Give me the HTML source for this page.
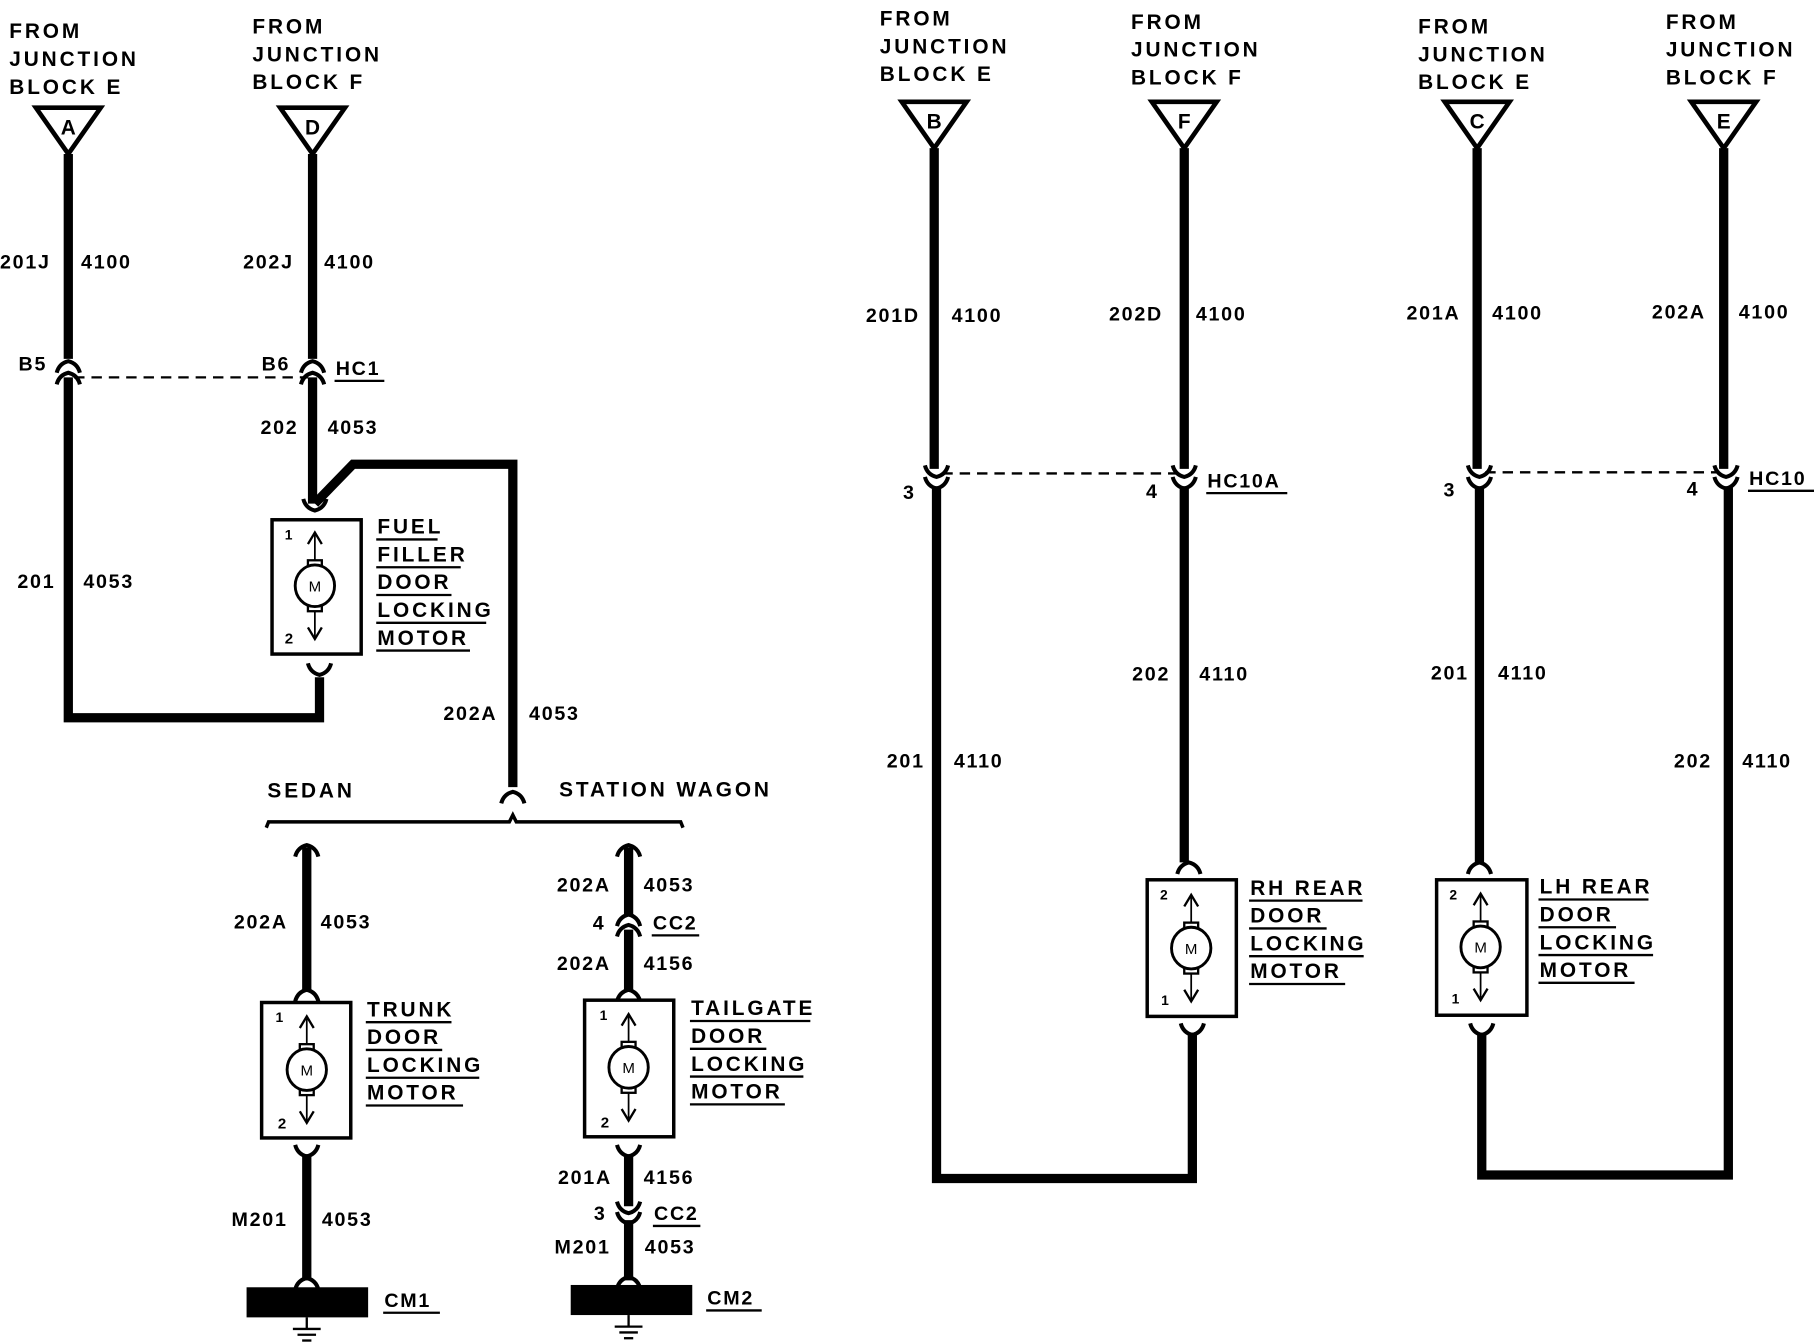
<!DOCTYPE html>
<html><head><meta charset="utf-8"><style>
html,body{margin:0;padding:0;background:#fff}
svg{display:block}
text{font-family:"Liberation Sans",sans-serif;font-weight:bold;font-size:17px;fill:#000;letter-spacing:1.5px}
.t{font-size:18px;letter-spacing:2.5px}
.w{stroke:#000;stroke-width:8;fill:none}
.c{stroke:#000;stroke-width:3.5;fill:none}
.d{stroke:#000;stroke-width:2;stroke-dasharray:9,6;fill:none}
.u{stroke:#000;stroke-width:2}
.b{stroke:#000;stroke-width:3;fill:#fff}
.tri{stroke:#000;stroke-width:4;fill:#fff}
</style></head><body>
<svg width="1814" height="1344" viewBox="0 0 1567 1161" xmlns="http://www.w3.org/2000/svg">
<defs>
<g id="cup"><path class="c" d="M-10,6 Q-8,-2 0,-4 Q8,-2 10,6"/></g>
<g id="cdn"><path class="c" d="M-10,-6 Q-8,2 0,4 Q8,2 10,-6"/></g>
<g id="mlines">
<line x1="0" y1="-44" x2="0" y2="44" stroke="#000" stroke-width="1.5"/>
<path d="M-6,-36 L0,-46 L6,-36" stroke="#000" stroke-width="2" fill="none"/>
<path d="M-6,36 L0,46 L6,36" stroke="#000" stroke-width="2" fill="none"/>
<rect x="-6" y="-22" width="12" height="6" fill="#fff" stroke="#000" stroke-width="2"/>
<rect x="-6" y="16" width="12" height="6" fill="#fff" stroke="#000" stroke-width="2"/>
<ellipse cx="0" cy="0" rx="17" ry="18" fill="#fff" stroke="#000" stroke-width="2.5"/>
</g>
<g id="motor">
<use href="#mlines"/>
<text x="0" y="5" text-anchor="middle" style="font-size:13px;font-weight:normal;letter-spacing:0">M</text>
</g>
<g id="gnd">
<line x1="0" y1="0" x2="0" y2="10" stroke="#000" stroke-width="2"/>
<line x1="-12" y1="10" x2="12" y2="10" stroke="#000" stroke-width="2"/>
<line x1="-8" y1="15" x2="8" y2="15" stroke="#000" stroke-width="2"/>
<line x1="-4" y1="20" x2="4" y2="20" stroke="#000" stroke-width="2"/>
</g>
</defs>

<!-- Left headers -->
<text class="t" x="8" y="33">FROM</text><text class="t" x="8" y="57">JUNCTION</text><text class="t" x="8" y="81">BLOCK E</text>
<text class="t" x="218" y="29">FROM</text><text class="t" x="218" y="53">JUNCTION</text><text class="t" x="218" y="77">BLOCK F</text>
<path class="tri" d="M31,93 L87,93 L59,133 Z"/><text class="t" x="59" y="116" text-anchor="middle" style="letter-spacing:0">A</text>
<path class="tri" d="M242,93 L298,93 L270,133 Z"/><text class="t" x="270" y="116" text-anchor="middle" style="letter-spacing:0">D</text>

<!-- wire A -->
<path class="w" d="M59,133 L59,310"/>
<use href="#cup" x="59" y="316"/><use href="#cup" x="59" y="326"/>
<path class="w" d="M59,326 L59,620 L276,620 L276,585"/>
<use href="#cdn" x="276" y="579"/>
<text x="0" y="232">201J</text><text x="70" y="232">4100</text>
<text x="16" y="320">B5</text>
<text x="15" y="508">201</text><text x="72" y="508">4053</text>
<line class="d" x1="64" y1="326" x2="266" y2="326"/>

<!-- wire D -->
<path class="w" d="M270,133 L270,310"/>
<use href="#cup" x="270" y="316"/><use href="#cup" x="270" y="326"/>
<path class="w" d="M270,326 L270,435"/>
<path class="w" d="M272,435 L305,401 L443,401 L443,680"/>
<use href="#cup" x="443" y="688"/>
<use href="#cdn" x="272" y="437"/>
<text x="210" y="232">202J</text><text x="280" y="232">4100</text>
<text x="226" y="320">B6</text>
<text x="290" y="324">HC1</text><line class="u" x1="289" y1="329" x2="332" y2="329"/>
<text x="225" y="375">202</text><text x="283" y="375">4053</text>
<text x="383" y="622">202A</text><text x="457" y="622">4053</text>

<!-- fuel filler motor -->
<rect class="b" x="235" y="449" width="77" height="116"/>
<use href="#motor" x="272" y="506"/>
<text x="246" y="466" style="font-size:12px">1</text><text x="246" y="556" style="font-size:13px">2</text>
<text class="t" x="326" y="461">FUEL</text><line class="u" x1="325" y1="466" x2="378" y2="466"/>
<text class="t" x="326" y="485">FILLER</text><line class="u" x1="325" y1="490" x2="398" y2="490"/>
<text class="t" x="326" y="509">DOOR</text><line class="u" x1="325" y1="514" x2="390" y2="514"/>
<text class="t" x="326" y="533">LOCKING</text><line class="u" x1="325" y1="538" x2="420" y2="538"/>
<text class="t" x="326" y="557">MOTOR</text><line class="u" x1="325" y1="562" x2="406" y2="562"/>

<!-- brace -->
<text class="t" x="231" y="689">SEDAN</text><text class="t" x="483" y="688">STATION WAGON</text>
<path d="M230,715 L232,710 L440,710 L443,704 L446,710 L588,710 L590,715" stroke="#000" stroke-width="3" fill="none"/>

<!-- trunk branch -->
<use href="#cup" x="265" y="734"/>
<path class="w" d="M265,732 L265,855"/>
<use href="#cup" x="265" y="859"/>
<text x="202" y="802">202A</text><text x="277" y="802">4053</text>
<rect class="b" x="226" y="866" width="77" height="117"/>
<use href="#motor" x="265" y="924"/>
<text x="238" y="883" style="font-size:12px">1</text><text x="240" y="975" style="font-size:13px">2</text>
<text class="t" x="317" y="878">TRUNK</text><line class="u" x1="316" y1="883" x2="390" y2="883"/>
<text class="t" x="317" y="902">DOOR</text><line class="u" x1="316" y1="907" x2="382" y2="907"/>
<text class="t" x="317" y="926">LOCKING</text><line class="u" x1="316" y1="931" x2="414" y2="931"/>
<text class="t" x="317" y="950">MOTOR</text><line class="u" x1="316" y1="955" x2="400" y2="955"/>
<use href="#cdn" x="265" y="995"/>
<path class="w" d="M265,997 L265,1106"/>
<text x="200" y="1059">M201</text><text x="278" y="1059">4053</text>
<use href="#cup" x="265" y="1108"/>
<rect x="213" y="1112" width="105" height="26" fill="#000"/>
<use href="#gnd" x="265" y="1138"/>
<text x="332" y="1129">CM1</text><line class="u" x1="331" y1="1134" x2="380" y2="1134"/>

<!-- wagon branch -->
<use href="#cup" x="543" y="734"/>
<path class="w" d="M543,732 L543,790"/>
<use href="#cup" x="543" y="794"/><use href="#cup" x="543" y="803"/>
<path class="w" d="M543,803 L543,855"/>
<use href="#cup" x="543" y="859"/>
<text x="481" y="770">202A</text><text x="556" y="770">4053</text>
<text x="512" y="803">4</text><text x="564" y="803">CC2</text><line class="u" x1="563" y1="808" x2="604" y2="808"/>
<text x="481" y="838">202A</text><text x="556" y="838">4156</text>
<rect class="b" x="505" y="864" width="77" height="118"/>
<use href="#motor" x="543" y="922"/>
<text x="518" y="881" style="font-size:12px">1</text><text x="519" y="974" style="font-size:13px">2</text>
<text class="t" x="597" y="877">TAILGATE</text><line class="u" x1="596" y1="882" x2="700" y2="882"/>
<text class="t" x="597" y="901">DOOR</text><line class="u" x1="596" y1="906" x2="662" y2="906"/>
<text class="t" x="597" y="925">LOCKING</text><line class="u" x1="596" y1="930" x2="694" y2="930"/>
<text class="t" x="597" y="949">MOTOR</text><line class="u" x1="596" y1="954" x2="678" y2="954"/>
<use href="#cdn" x="543" y="995"/>
<path class="w" d="M543,997 L543,1042"/>
<use href="#cdn" x="543" y="1044"/><use href="#cdn" x="543" y="1053"/>
<path class="w" d="M543,1054 L543,1106"/>
<text x="482" y="1023">201A</text><text x="556" y="1023">4156</text>
<text x="513" y="1054">3</text><text x="565" y="1054">CC2</text><line class="u" x1="564" y1="1059" x2="605" y2="1059"/>
<text x="479" y="1083">M201</text><text x="557" y="1083">4053</text>
<use href="#cup" x="543" y="1107"/>
<rect x="493" y="1110" width="105" height="26" fill="#000"/>
<use href="#gnd" x="543" y="1136"/>
<text x="611" y="1127">CM2</text><line class="u" x1="610" y1="1132" x2="658" y2="1132"/>

<!-- RIGHT headers -->
<text class="t" x="760" y="22">FROM</text><text class="t" x="760" y="46">JUNCTION</text><text class="t" x="760" y="70">BLOCK E</text>
<text class="t" x="977" y="25">FROM</text><text class="t" x="977" y="49">JUNCTION</text><text class="t" x="977" y="73">BLOCK F</text>
<text class="t" x="1225" y="29">FROM</text><text class="t" x="1225" y="53">JUNCTION</text><text class="t" x="1225" y="77">BLOCK E</text>
<text class="t" x="1439" y="25">FROM</text><text class="t" x="1439" y="49">JUNCTION</text><text class="t" x="1439" y="73">BLOCK F</text>
<path class="tri" d="M779,88 L835,88 L807,128 Z"/><text class="t" x="807" y="111" text-anchor="middle" style="letter-spacing:0">B</text>
<path class="tri" d="M995,88 L1051,88 L1023,128 Z"/><text class="t" x="1023" y="111" text-anchor="middle" style="letter-spacing:0">F</text>
<path class="tri" d="M1248,88 L1304,88 L1276,128 Z"/><text class="t" x="1276" y="111" text-anchor="middle" style="letter-spacing:0">C</text>
<path class="tri" d="M1461,88 L1517,88 L1489,128 Z"/><text class="t" x="1489" y="111" text-anchor="middle" style="letter-spacing:0">E</text>

<!-- B/F circuit -->
<path class="w" d="M807,128 L807,405"/>
<use href="#cdn" x="809" y="408"/><use href="#cdn" x="809" y="418"/>
<path class="w" d="M809,420 L809,1018 L1030,1018 L1030,892"/>
<use href="#cdn" x="1030" y="890"/>
<path class="w" d="M1023,128 L1023,405"/>
<use href="#cdn" x="1023" y="408"/><use href="#cdn" x="1023" y="418"/>
<path class="w" d="M1023,420 L1023,745"/>
<use href="#cup" x="1027" y="749"/>
<line class="d" x1="814" y1="409" x2="1018" y2="409"/>
<text x="748" y="278">201D</text><text x="822" y="278">4100</text>
<text x="780" y="431">3</text>
<text x="766" y="663">201</text><text x="824" y="663">4110</text>
<text x="958" y="277">202D</text><text x="1033" y="277">4100</text>
<text x="990" y="430">4</text>
<text x="1043" y="421">HC10A</text><line class="u" x1="1042" y1="426" x2="1112" y2="426"/>
<text x="978" y="588">202</text><text x="1036" y="588">4110</text>
<rect class="b" x="991" y="760" width="77" height="118"/>
<use href="#mlines" x="1029" y="819" transform="rotate(180 1029 819)"/>
<text x="1029" y="824" text-anchor="middle" style="font-size:13px;font-weight:normal;letter-spacing:0">M</text>
<text x="1002" y="777" style="font-size:12px">2</text><text x="1003" y="868" style="font-size:12px">1</text>
<text class="t" x="1080" y="773">RH REAR</text><line class="u" x1="1079" y1="778" x2="1177" y2="778"/>
<text class="t" x="1080" y="797">DOOR</text><line class="u" x1="1079" y1="802" x2="1146" y2="802"/>
<text class="t" x="1080" y="821">LOCKING</text><line class="u" x1="1079" y1="826" x2="1178" y2="826"/>
<text class="t" x="1080" y="845">MOTOR</text><line class="u" x1="1079" y1="850" x2="1162" y2="850"/>

<!-- C/E circuit -->
<path class="w" d="M1276,128 L1276,405"/>
<use href="#cdn" x="1278" y="408"/><use href="#cdn" x="1278" y="418"/>
<path class="w" d="M1278,420 L1278,745"/>
<use href="#cup" x="1278" y="749"/>
<path class="w" d="M1489,128 L1489,405"/>
<use href="#cdn" x="1491" y="408"/><use href="#cdn" x="1491" y="418"/>
<path class="w" d="M1493,420 L1493,1015 L1280,1015 L1280,892"/>
<use href="#cdn" x="1280" y="890"/>
<line class="d" x1="1283" y1="408" x2="1485" y2="408"/>
<text x="1215" y="276">201A</text><text x="1289" y="276">4100</text>
<text x="1247" y="429">3</text>
<text x="1236" y="587">201</text><text x="1294" y="587">4110</text>
<text x="1427" y="275">202A</text><text x="1502" y="275">4100</text>
<text x="1457" y="428">4</text>
<text x="1511" y="419">HC10</text><line class="u" x1="1510" y1="424" x2="1567" y2="424"/>
<text x="1446" y="663">202</text><text x="1505" y="663">4110</text>
<rect class="b" x="1241" y="760" width="78" height="117"/>
<use href="#mlines" x="1279" y="818" transform="rotate(180 1279 818)"/>
<text x="1279" y="823" text-anchor="middle" style="font-size:13px;font-weight:normal;letter-spacing:0">M</text>
<text x="1252" y="777" style="font-size:12px">2</text><text x="1254" y="867" style="font-size:12px">1</text>
<text class="t" x="1330" y="772">LH REAR</text><line class="u" x1="1329" y1="777" x2="1424" y2="777"/>
<text class="t" x="1330" y="796">DOOR</text><line class="u" x1="1329" y1="801" x2="1396" y2="801"/>
<text class="t" x="1330" y="820">LOCKING</text><line class="u" x1="1329" y1="825" x2="1428" y2="825"/>
<text class="t" x="1330" y="844">MOTOR</text><line class="u" x1="1329" y1="849" x2="1412" y2="849"/>
</svg>
</body></html>
